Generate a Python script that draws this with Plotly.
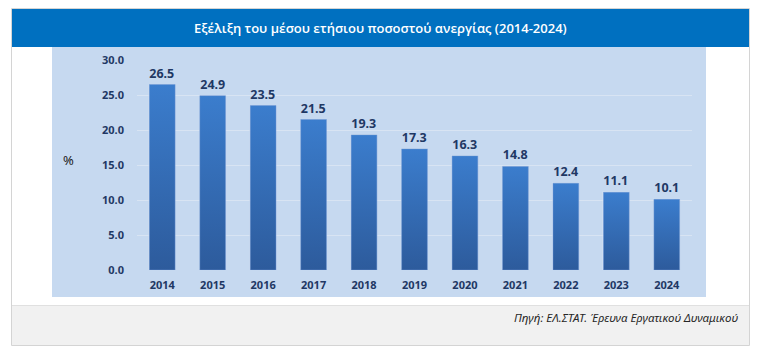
import plotly.graph_objects as go

years = ["2014", "2015", "2016", "2017", "2018", "2019", "2020", "2021", "2022", "2023", "2024"]
rates = [26.5, 24.9, 23.5, 21.5, 19.3, 17.3, 16.3, 14.8, 12.4, 11.1, 10.1]
y_ticks = [0, 5, 10, 15, 20, 25, 30]
y_ticktext = ["0.0", "5.0", "10.0", "15.0", "20.0", "25.0", "30.0"]

W, H = 760, 352
NAVY = "#1F3864"
BAR_W = 0.51

def px(x):
    return x / W

def py(y):
    return 1 - y / H

fig = go.Figure()

# gradient bars, one polygon per bar built from the data
for i, v in enumerate(rates):
    fig.add_trace(go.Scatter(
        x=[i - BAR_W / 2, i + BAR_W / 2, i + BAR_W / 2, i - BAR_W / 2, i - BAR_W / 2],
        y=[0, 0, v, v, 0],
        mode="lines",
        fill="toself",
        line=dict(color="rgba(110,150,210,0.6)", width=0.8),
        fillgradient=dict(type="vertical",
                          colorscale=[[0, "#2D5B9C"], [1, "#3B7DCD"]]),
        hoverinfo="skip",
        showlegend=False,
    ))

# transparent bars carrying the value labels
fig.add_trace(go.Bar(
    x=list(range(len(years))),
    y=rates,
    width=BAR_W,
    marker=dict(color="rgba(0,0,0,0)"),
    text=[f"{v:.1f}" for v in rates],
    textposition="outside",
    textfont=dict(family="Noto Sans", size=12.5, color=NAVY, weight="bold"),
    cliponaxis=False,
    showlegend=False,
))

shapes = [
    # outer frame
    dict(type="rect", xref="paper", yref="paper", x0=px(11.5), x1=px(749.5), y0=py(345.5), y1=py(8.5),
         line=dict(color="#D4D4D4", width=1), fillcolor="white", layer="below"),
    # plot area background
    dict(type="rect", xref="paper", yref="paper", x0=px(52), x1=px(706), y0=py(297), y1=py(47),
         line=dict(width=0), fillcolor="#C6D9F0", layer="below"),
    # footer
    dict(type="rect", xref="paper", yref="paper", x0=px(12), x1=px(749), y0=py(345), y1=py(306),
         line=dict(width=0), fillcolor="#F1F1F1", layer="below"),
    dict(type="line", xref="paper", yref="paper", x0=px(12), x1=px(749), y0=py(305.5), y1=py(305.5),
         line=dict(color="#E0E0E0", width=1), layer="below"),
    # title bar
    dict(type="rect", xref="paper", yref="paper", x0=px(12), x1=px(749), y0=py(47), y1=py(9),
         line=dict(width=0), fillcolor="#0070C0", layer="below"),
]

annotations = [
    dict(text="Εξέλιξη του μέσου ετήσιου ποσοστού ανεργίας (2014-2024)",
         xref="paper", yref="paper", x=px(380), y=py(27.5), showarrow=False,
         font=dict(family="Open Sans", size=13, color="white", weight=600),
         xanchor="center", yanchor="middle"),
    dict(text="%", xref="paper", yref="paper", x=px(68), y=py(160), showarrow=False,
         font=dict(family="Noto Sans", size=13, color="#222222"),
         xanchor="center", yanchor="middle"),
    dict(text="<i>Πηγή: ΕΛ.ΣΤΑΤ. Έρευνα Εργατικού Δυναμικού</i>",
         xref="paper", yref="paper", x=px(740), y=py(317), showarrow=False,
         font=dict(family="Noto Sans", size=11.5, color="#262626"),
         xanchor="right", yanchor="middle"),
]

fig.update_layout(
    width=W, height=H, autosize=False,
    margin=dict(l=0, r=0, t=0, b=0, pad=0, autoexpand=False),
    paper_bgcolor="white",
    plot_bgcolor="rgba(0,0,0,0)",
    shapes=shapes,
    annotations=annotations,
    bargap=0,
    xaxis=dict(
        domain=[px(137), px(692)],
        range=[-0.5, len(years) - 0.5],
        tickvals=list(range(len(years))),
        ticktext=years,
        showgrid=False, zeroline=False, showline=False,
        ticks="", ticklabelstandoff=7, automargin=False,
        tickfont=dict(family="Noto Sans", size=11, color=NAVY, weight="bold"),
        fixedrange=True,
    ),
    yaxis=dict(
        domain=[py(270), py(60)],
        range=[0, 30],
        tickvals=y_ticks,
        ticktext=y_ticktext,
        showgrid=True, gridcolor="#D8E4F3", gridwidth=1,
        zeroline=False, showline=False,
        ticks="", ticklabelstandoff=12, automargin=False,
        tickfont=dict(family="Noto Sans", size=11, color=NAVY, weight="bold"),
        fixedrange=True,
    ),
)

fig.write_html("out.html")
